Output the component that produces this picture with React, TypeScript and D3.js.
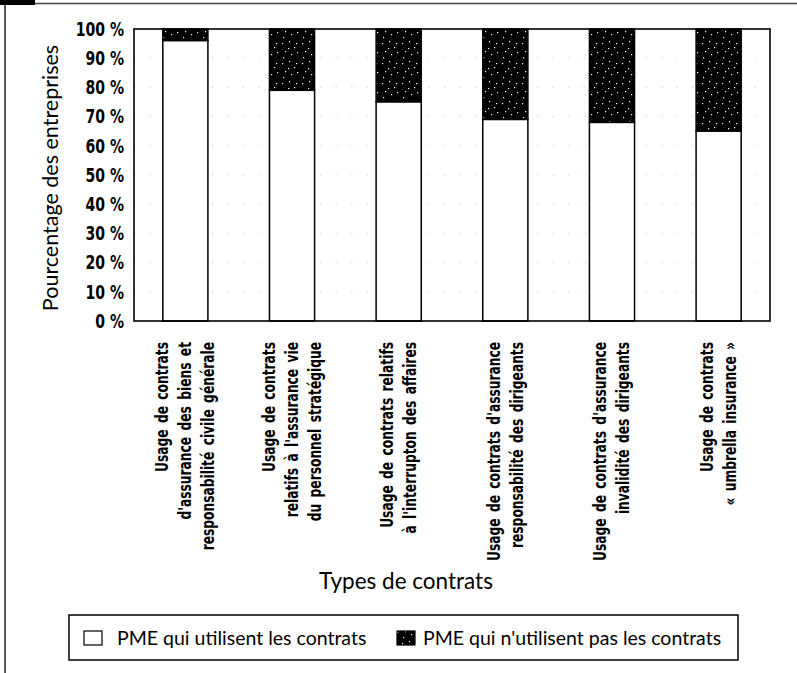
import React from "react";
import * as d3 from "d3";

const categories: string[][] = [
  ["Usage de contrats", "d'assurance des biens et", "responsabilité civile générale"],
  ["Usage de contrats", "relatifs à l'assurance vie", "du personnel stratégique"],
  ["Usage de contrats relatifs", "à l'interrupton des affaires"],
  ["Usage de contrats d'assurance", "responsabilité des dirigeants"],
  ["Usage de contrats d'assurance", "invalidité des dirigeants"],
  ["Usage de contrats", "« umbrella insurance »"],
];
const usedValues = [96, 79, 75, 69, 68, 65];
const yTicks = [0, 10, 20, 30, 40, 50, 60, 70, 80, 90, 100];
const yTitle = "Pourcentage des entreprises";
const xTitle = "Types de contrats";
const legendLabels = ["PME qui utilisent les contrats", "PME qui n'utilisent pas les contrats"];

const W = 797;
const H = 673;
const left = 134, right = 770, top = 29, bottom = 321;

const condensed = "'DejaVu Sans', sans-serif";
const humanist = "Lato, 'Open Sans', sans-serif";

export default function App() {
  const ids = categories.map((_, i) => String(i));
  const x = d3.scaleBand<string>().domain(ids).range([left, right]).paddingInner(0.577).paddingOuter(0.27);
  const y = d3.scaleLinear().domain([0, 100]).range([bottom, top]);

  const dots = [
    [2, 3], [9, 1], [14, 7], [5, 11], [11, 14], [17, 12], [3, 17], [16, 3], [8, 8],
  ];

  return (
    <svg
      width={W}
      height={H}
      style={{ position: "absolute", left: 0, top: 0, background: "#fff" }}
    >
      <defs>
        <pattern id="speckle" width={20} height={20} patternUnits="userSpaceOnUse">
          <rect width={20} height={20} fill="#000" />
          {dots.map(([px, py], i) => (
            <rect key={i} x={px} y={py} width={1.2} height={1.2} fill="#fff" />
          ))}
        </pattern>
      </defs>

      {/* page frame of the scan */}
      <rect x={0} y={0} width={35} height={5} fill="#000" />
      <line x1={35} x2={W} y1={3.5} y2={3.5} stroke="#444" strokeWidth={1.5} />
      <line x1={5} x2={5} y1={4} y2={H} stroke="#222" strokeWidth={1.5} />

      {/* gridlines */}
      {yTicks.filter((t) => t > 0 && t < 100).map((t) => (
        <line
          key={t}
          x1={left}
          x2={right}
          y1={y(t)}
          y2={y(t)}
          stroke="#ccc"
          strokeWidth={0.8}
          strokeDasharray="1.5 14"
        />
      ))}

      {/* bars */}
      {usedValues.map((v, i) => {
        const bx = x(ids[i])!;
        const bw = x.bandwidth();
        return (
          <g key={i}>
            <rect
              x={bx}
              y={y(100)}
              width={bw}
              height={y(v) - y(100)}
              fill="url(#speckle)"
              stroke="#000"
              strokeWidth={1.5}
            />
            <rect
              x={bx}
              y={y(v)}
              width={bw}
              height={y(0) - y(v)}
              fill="#fff"
              stroke="#000"
              strokeWidth={1.5}
            />
          </g>
        );
      })}

      {/* plot frame */}
      <rect x={left} y={top} width={right - left} height={bottom - top} fill="none" stroke="#000" strokeWidth={1.6} />

      {/* y tick labels */}
      {yTicks.map((t) => (
        <text
          key={t}
          transform={`translate(124,${y(t)}) scale(0.72,1)`}
          textAnchor="end"
          dominantBaseline="central"
          fontFamily={condensed}
          fontWeight="bold"
          fontSize={19.5}
          fill="#000"
        >
          {t} %
        </text>
      ))}

      {/* y title */}
      <text
        transform={`translate(50,${(top + bottom) / 2 + 3}) rotate(-90)`}
        textAnchor="middle"
        dominantBaseline="central"
        fontFamily={humanist}
        fontSize={21.5}
        fill="#000"
      >
        {yTitle}
      </text>

      {/* category labels */}
      {categories.map((lines, i) => {
        const cx = x(ids[i])! + x.bandwidth() / 2;
        const n = lines.length;
        return (
          <text
            key={i}
            transform={`translate(${cx},342) rotate(-90) scale(0.7,1)`}
            textAnchor="end"
            fontFamily={condensed}
            fontWeight="bold"
            fontSize={17.5}
            wordSpacing={3}
            fill="#000"
          >
            {lines.map((ln, j) => (
              <tspan key={j} x={0} y={(j - (n - 1) / 2) * 23} dominantBaseline="central">
                {ln}
              </tspan>
            ))}
          </text>
        );
      })}

      {/* x title */}
      <text x={406} y={589} textAnchor="middle" fontFamily={humanist} fontSize={22.5} fill="#000">
        {xTitle}
      </text>

      {/* legend */}
      <rect x={69} y={615} width={669} height={45} fill="#fff" stroke="#000" strokeWidth={1.5} />
      <rect x={84} y={631} width={18} height={14} fill="#fff" stroke="#000" strokeWidth={1.2} />
      <text x={117} y={645} fontFamily={humanist} fontSize={19.5} fill="#000">
        {legendLabels[0]}
      </text>
      <rect x={397} y={631} width={18} height={14} fill="url(#speckle)" stroke="#000" strokeWidth={1.2} />
      <text x={423} y={645} fontFamily={humanist} fontSize={19.5} fill="#000">
        {legendLabels[1]}
      </text>
    </svg>
  );
}
